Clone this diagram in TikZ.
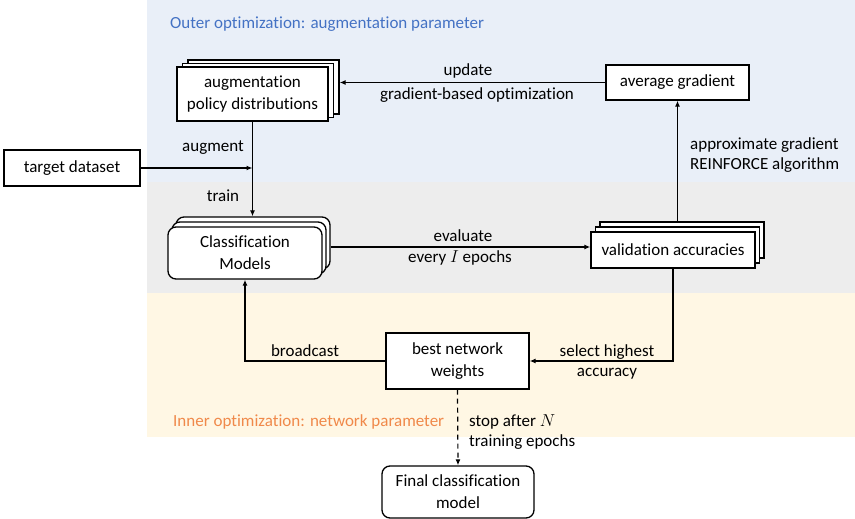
\documentclass[tikz,border=0pt]{standalone}
\usepackage{fontspec}
\setmainfont[Ligatures=NoCommon]{Carlito}
\usetikzlibrary{arrows.meta,shadows,calc}
\definecolor{bgblue}{RGB}{233,239,248}
\definecolor{bggray}{RGB}{237,237,237}
\definecolor{bgyellow}{RGB}{255,247,228}
\definecolor{outerblue}{RGB}{68,114,196}
\definecolor{innerorange}{RGB}{240,137,74}
\begin{document}
\begin{tikzpicture}[x=1pt,y=-1pt,
  every node/.style={font=\fontsize{17}{22}\selectfont},
  box/.style={draw,fill=white,line width=1.3pt,align=center,inner sep=0pt},
  lbl/.style={text height=12pt,text depth=3.5pt,inner sep=0pt},
  arr/.style={-{Latex[length=6pt,width=5pt]},line width=1.2pt},
  dsh/.style={dash pattern=on 5pt off 4pt}]
\useasboundingbox (0,0) rectangle (855,519);
% backgrounds
\fill[bgblue] (147,0) rectangle (855,182);
\fill[bggray] (147,182) rectangle (855,293);
\fill[bgyellow] (147,293) rectangle (855,437);
% region titles
\node[lbl,anchor=west,text=outerblue] (outer) at (170,24) {Outer optimization: augmentation parameter};
\node[lbl,anchor=west,text=innerorange] (inner) at (173,422) {Inner optimization: network parameter};
% nodes
\node[box,minimum width=151pt,minimum height=54pt,
  copy shadow={shadow xshift=11pt,shadow yshift=7pt,draw,fill=white,line width=1.3pt},
  copy shadow={shadow xshift=5.5pt,shadow yshift=3.5pt,draw,fill=white,line width=1.3pt}]
  (aug) at (252.5,94) {augmentation\\policy distributions};
\node[box,minimum width=143pt,minimum height=35pt] (avg) at (677.5,82.5) {average gradient};
\node[box,minimum width=136pt,minimum height=36pt] (tgt) at (72,168) {target dataset};
\node[box,rounded corners=8pt,minimum width=154pt,minimum height=52pt,
  copy shadow={shadow xshift=8pt,shadow yshift=10pt,draw,fill=white,line width=1.3pt},
  copy shadow={shadow xshift=4pt,shadow yshift=5pt,draw,fill=white,line width=1.3pt}]
  (cls) at (245,253) {Classification\\Models};
\node[box,minimum width=164pt,minimum height=36pt,
  copy shadow={shadow xshift=9pt,shadow yshift=10pt,draw,fill=white,line width=1.3pt},
  copy shadow={shadow xshift=4.5pt,shadow yshift=5pt,draw,fill=white,line width=1.3pt}]
  (val) at (673,250) {validation accuracies};
\node[box,minimum width=143pt,minimum height=56pt] (bw) at (457.5,361) {best network\\weights};
\node[box,rounded corners=8pt,minimum width=152pt,minimum height=52pt] (final) at (458,492) {Final classification\\model};
% connectors
\draw[arr] (avg.west) -- ($(avg.west -| aug.east)+(11,0)$);
\draw[arr] (tgt.east) -- (tgt.east -| aug.south);
\draw[arr] (aug.south) -- ($(aug.south |- cls.north)+(0,-10)$);
\draw[arr] ($(cls.east)+(8,-6)$) -- ($(cls.east -| val.west)+(0,-6)$);
\draw[arr] ($(avg.south |- val.north)+(0,-10)$) -- (avg.south);
\draw[arr] (val.south) |- (bw.east);
\draw[arr] (bw.west) -| (cls.south);
\draw[arr,dsh] (bw.south) -- (final.north);
% labels
\node[lbl] (lupd) at (468,71) {update};
\node[lbl] (lgbo) at (477,95) {gradient-based optimization};
\node[lbl] (laug) at (213,147) {augment};
\node[lbl] (ltrain) at (223,197) {train};
\node[lbl] (leval) at (463,237) {evaluate};
\node[lbl] (levery) at (460,258) {every $I$ epochs};
\node[lbl,anchor=west] (lapp1) at (690,145) {approximate gradient};
\node[lbl,anchor=west] (lapp2) at (690,165) {REINFORCE algorithm};
\node[lbl] (lbc) at (305,352) {broadcast};
\node[lbl] (lsel1) at (607,352) {select highest};
\node[lbl] (lsel2) at (607,372) {accuracy};
\node[lbl,anchor=west] (lstop1) at (469,422) {stop after $N$};
\node[lbl,anchor=west] (lstop2) at (469,442) {training epochs};
\end{tikzpicture}
\end{document}
